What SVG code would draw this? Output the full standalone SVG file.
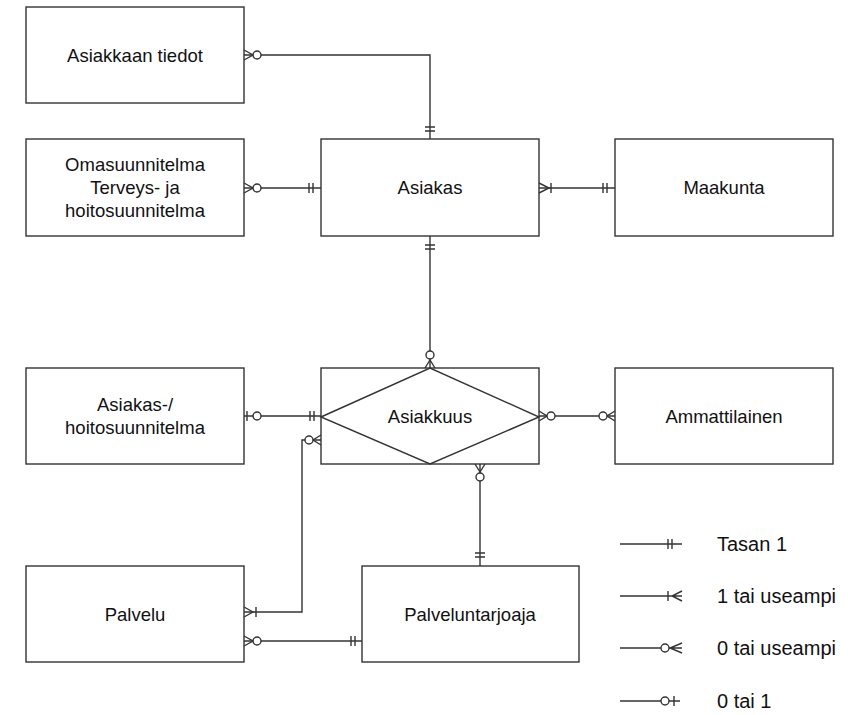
<svg xmlns="http://www.w3.org/2000/svg" width="848" height="715" viewBox="0 0 848 715">
<style>
.box{fill:#fff;stroke:#333;stroke-width:1.4}
.ln{fill:none;stroke:#333;stroke-width:1.4}
.c{fill:#fff;stroke:#333;stroke-width:1.4}
text{font-family:"Liberation Sans",Arial,sans-serif;font-size:18.5px;fill:#111;text-anchor:middle}
.lg{text-anchor:start;font-size:20px}
</style>
<rect width="848" height="715" fill="#fff"/>
<g id="n-asiakkaan-tiedot"><rect class="box" x="26" y="7" width="218" height="96"/><text x="135" y="62">Asiakkaan tiedot</text></g>
<g id="n-omasuunnitelma"><rect class="box" x="26" y="139" width="218" height="97"/><text x="135" y="171">Omasuunnitelma</text><text x="135" y="194">Terveys- ja</text><text x="135" y="217">hoitosuunnitelma</text></g>
<g id="n-asiakas"><rect class="box" x="321" y="139" width="218" height="97"/><text x="430" y="194">Asiakas</text></g>
<g id="n-maakunta"><rect class="box" x="615" y="139" width="218" height="97"/><text x="724" y="194">Maakunta</text></g>
<g id="n-hoitosuunnitelma"><rect class="box" x="26" y="368" width="218" height="96"/><text x="135" y="411">Asiakas-/</text><text x="135" y="434">hoitosuunnitelma</text></g>
<g id="n-asiakkuus"><rect class="box" x="321" y="368" width="218" height="96"/><polygon class="ln" points="321,417 430,368 539,417 430,464"/><text x="430" y="423">Asiakkuus</text></g>
<g id="n-ammattilainen"><rect class="box" x="615" y="368" width="218" height="96"/><text x="724" y="423">Ammattilainen</text></g>
<g id="n-palvelu"><rect class="box" x="26" y="566" width="218" height="96"/><text x="135" y="621">Palvelu</text></g>
<g id="n-palveluntarjoaja"><rect class="box" x="362" y="566" width="217" height="96"/><text x="470" y="621">Palveluntarjoaja</text></g>
<g id="connectors">
<path class="ln" d="M244,55 H430 V139"/>
<path class="ln" d="M244,50 L253,55 L244,60 M425,127 H435 M425,131 H435"/>
<circle class="c" cx="257" cy="55" r="4"/>
<path class="ln" d="M244,188 H321"/>
<path class="ln" d="M244,183 L253,188 L244,193 M309,183 V193 M313,183 V193"/>
<circle class="c" cx="257" cy="188" r="4"/>
<path class="ln" d="M539,188 H615"/>
<path class="ln" d="M539,183 L549,188 L539,193 M551,183 V193 M603,183 V193 M607,183 V193"/>
<path class="ln" d="M430,236 V368"/>
<path class="ln" d="M425,245 H435 M425,249 H435 M425,368 L430,360 L435,368"/>
<circle class="c" cx="430" cy="355" r="4"/>
<path class="ln" d="M244,416 H321"/>
<path class="ln" d="M247,411 V421 M310,411 V421 M314,411 V421"/>
<circle class="c" cx="257" cy="416" r="4"/>
<path class="ln" d="M539,416 H615"/>
<path class="ln" d="M539,411 L547,416 L539,421 M615,411 L607,416 L615,421"/>
<circle class="c" cx="551" cy="416" r="4"/>
<circle class="c" cx="603" cy="416" r="4"/>
<path class="ln" d="M480,464 V566"/>
<path class="ln" d="M475,464 L480,472 L485,464 M475,553 H485 M475,557 H485"/>
<circle class="c" cx="480" cy="477" r="4"/>
<path class="ln" d="M244,612 H302 V440 H321"/>
<path class="ln" d="M244,607 L253,612 L244,617 M256,607 V617 M321,435 L313,440 L321,445"/>
<circle class="c" cx="309" cy="440" r="4"/>
<path class="ln" d="M244,641 H362"/>
<path class="ln" d="M244,636 L253,641 L244,646 M351,636 V646 M355,636 V646"/>
<circle class="c" cx="257" cy="641" r="4"/>
</g>
<g id="legend">
<path class="ln" d="M620,544 H682 M668,539 V549 M672,539 V549"/>
<text class="lg" x="717" y="551">Tasan 1</text>
<path class="ln" d="M620,596 H682 M668,591 V601 M682,591 L672,596 L682,601"/>
<text class="lg" x="717" y="603">1 tai useampi</text>
<path class="ln" d="M620,648 H682 M682,643 L670,648 L682,653"/>
<circle class="c" cx="665" cy="648" r="4"/>
<text class="lg" x="717" y="655">0 tai useampi</text>
<path class="ln" d="M620,701 H680 M674,696 V706"/>
<circle class="c" cx="665" cy="701" r="4"/>
<text class="lg" x="717" y="708">0 tai 1</text>
</g>
</svg>
